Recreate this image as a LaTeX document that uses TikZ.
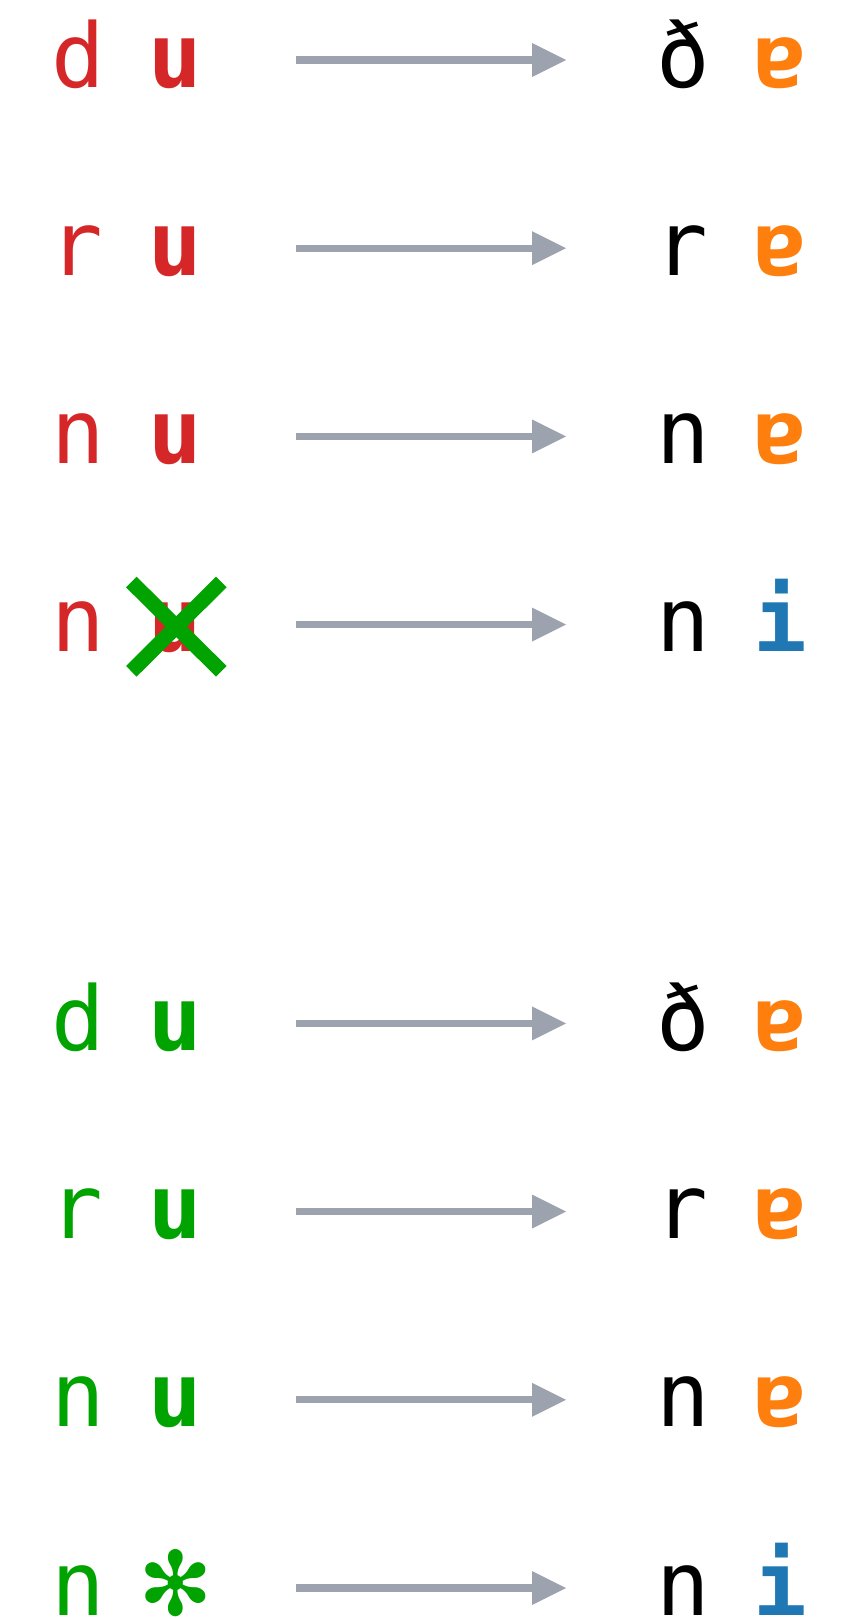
\documentclass[tikz,border=0pt]{standalone}
\usepackage{fontspec}
\usetikzlibrary{arrows.meta}
\newfontfamily\glyphmono{DejaVu Sans Mono}
\newfontfamily\glyphsans{DejaVu Sans}
\definecolor{cred}{HTML}{D62728}
\definecolor{corange}{HTML}{FF7F0E}
\definecolor{cblue}{HTML}{1F77B4}
\definecolor{cgreen}{HTML}{00A300}
\definecolor{cgray}{HTML}{9CA3AF}
\tikzset{
  glyph/.style={anchor=base, inner sep=0pt, outer sep=0pt, font=\glyphmono\fontsize{89}{89}\selectfont},
  bglyph/.style={anchor=base, inner sep=0pt, outer sep=0pt, font=\glyphmono\bfseries\fontsize{89}{89}\selectfont},
  arr/.style={draw=cgray, line width=7.3pt, -{Triangle[length=34pt,width=34pt,line width=0pt]}},
  crossline/.style={draw=cgreen, line width=15pt, line cap=butt},
}
\begin{document}
\begin{tikzpicture}[x=1pt,y=-1pt]
\useasboundingbox (0,0) rectangle (851,1619);
\clip (0,0) rectangle (851,1619);
\fill[white] (0,0) rectangle (851,1619);
% row 1
\node[glyph, text=cred] (l1a) at (78.5,87) {d};
\node[bglyph, text=cred] (l1b) at (175,87) {u};
\node[glyph, text=black] (r1a) at (683,87) {ð};
\node[bglyph, text=corange] (r1b) at (780.5,87) {ɐ};
\coordinate (s1) at (296,60); \coordinate (e1) at (566,60);
\draw[arr] (s1) -- (e1);
% row 2
\node[glyph, text=cred] (l2a) at (76,275.2) {r};
\node[bglyph, text=cred] (l2b) at (175,275.2) {u};
\node[glyph, text=black] (r2a) at (681,275.2) {r};
\node[bglyph, text=corange] (r2b) at (780.5,275.2) {ɐ};
\coordinate (s2) at (296,248.2); \coordinate (e2) at (566,248.2);
\draw[arr] (s2) -- (e2);
% row 3
\node[glyph, text=cred] (l3a) at (78.5,463.4) {n};
\node[bglyph, text=cred] (l3b) at (175,463.4) {u};
\node[glyph, text=black] (r3a) at (683,463.4) {n};
\node[bglyph, text=corange] (r3b) at (780.5,463.4) {ɐ};
\coordinate (s3) at (296,436.4); \coordinate (e3) at (566,436.4);
\draw[arr] (s3) -- (e3);
% row 4
\node[glyph, text=cred] (l4a) at (78.5,651.6) {n};
\node[bglyph, text=cred] (l4b) at (175,651.6) {u};
\node[glyph, text=black] (r4a) at (683,651.6) {n};
\node[bglyph, text=cblue] (r4b) at (780.5,651.6) {i};
\coordinate (s4) at (296,624.6); \coordinate (e4) at (566,624.6);
\draw[arr] (s4) -- (e4);
\coordinate (x1) at (131.3,582); \coordinate (x2) at (221.3,671.3);
\coordinate (x3) at (221.3,582); \coordinate (x4) at (131.3,671.3);
\draw[crossline] (x1) -- (x2);
\draw[crossline] (x3) -- (x4);
% row 5
\node[glyph, text=cgreen] (l5a) at (78.5,1050.4) {d};
\node[bglyph, text=cgreen] (l5b) at (175,1050.4) {u};
\node[glyph, text=black] (r5a) at (683,1050.4) {ð};
\node[bglyph, text=corange] (r5b) at (780.5,1050.4) {ɐ};
\coordinate (s5) at (296,1023.4); \coordinate (e5) at (566,1023.4);
\draw[arr] (s5) -- (e5);
% row 6
\node[glyph, text=cgreen] (l6a) at (76,1238.6) {r};
\node[bglyph, text=cgreen] (l6b) at (175,1238.6) {u};
\node[glyph, text=black] (r6a) at (681,1238.6) {r};
\node[bglyph, text=corange] (r6b) at (780.5,1238.6) {ɐ};
\coordinate (s6) at (296,1211.6); \coordinate (e6) at (566,1211.6);
\draw[arr] (s6) -- (e6);
% row 7
\node[glyph, text=cgreen] (l7a) at (78.5,1426.8) {n};
\node[bglyph, text=cgreen] (l7b) at (175,1426.8) {u};
\node[glyph, text=black] (r7a) at (683,1426.8) {n};
\node[bglyph, text=corange] (r7b) at (780.5,1426.8) {ɐ};
\coordinate (s7) at (296,1399.8); \coordinate (e7) at (566,1399.8);
\draw[arr] (s7) -- (e7);
% row 8
\node[glyph, text=cgreen] (l8a) at (78.5,1615) {n};
\node[anchor=base, inner sep=0pt, text=cgreen, font=\glyphsans\fontsize{89}{89}\selectfont] (l8b) at (175.3,1615) {✻};
\node[glyph, text=black] (r8a) at (683,1615) {n};
\node[bglyph, text=cblue] (r8b) at (780.5,1615) {i};
\coordinate (s8) at (296,1588); \coordinate (e8) at (566,1588);
\draw[arr] (s8) -- (e8);
\end{tikzpicture}
\end{document}
